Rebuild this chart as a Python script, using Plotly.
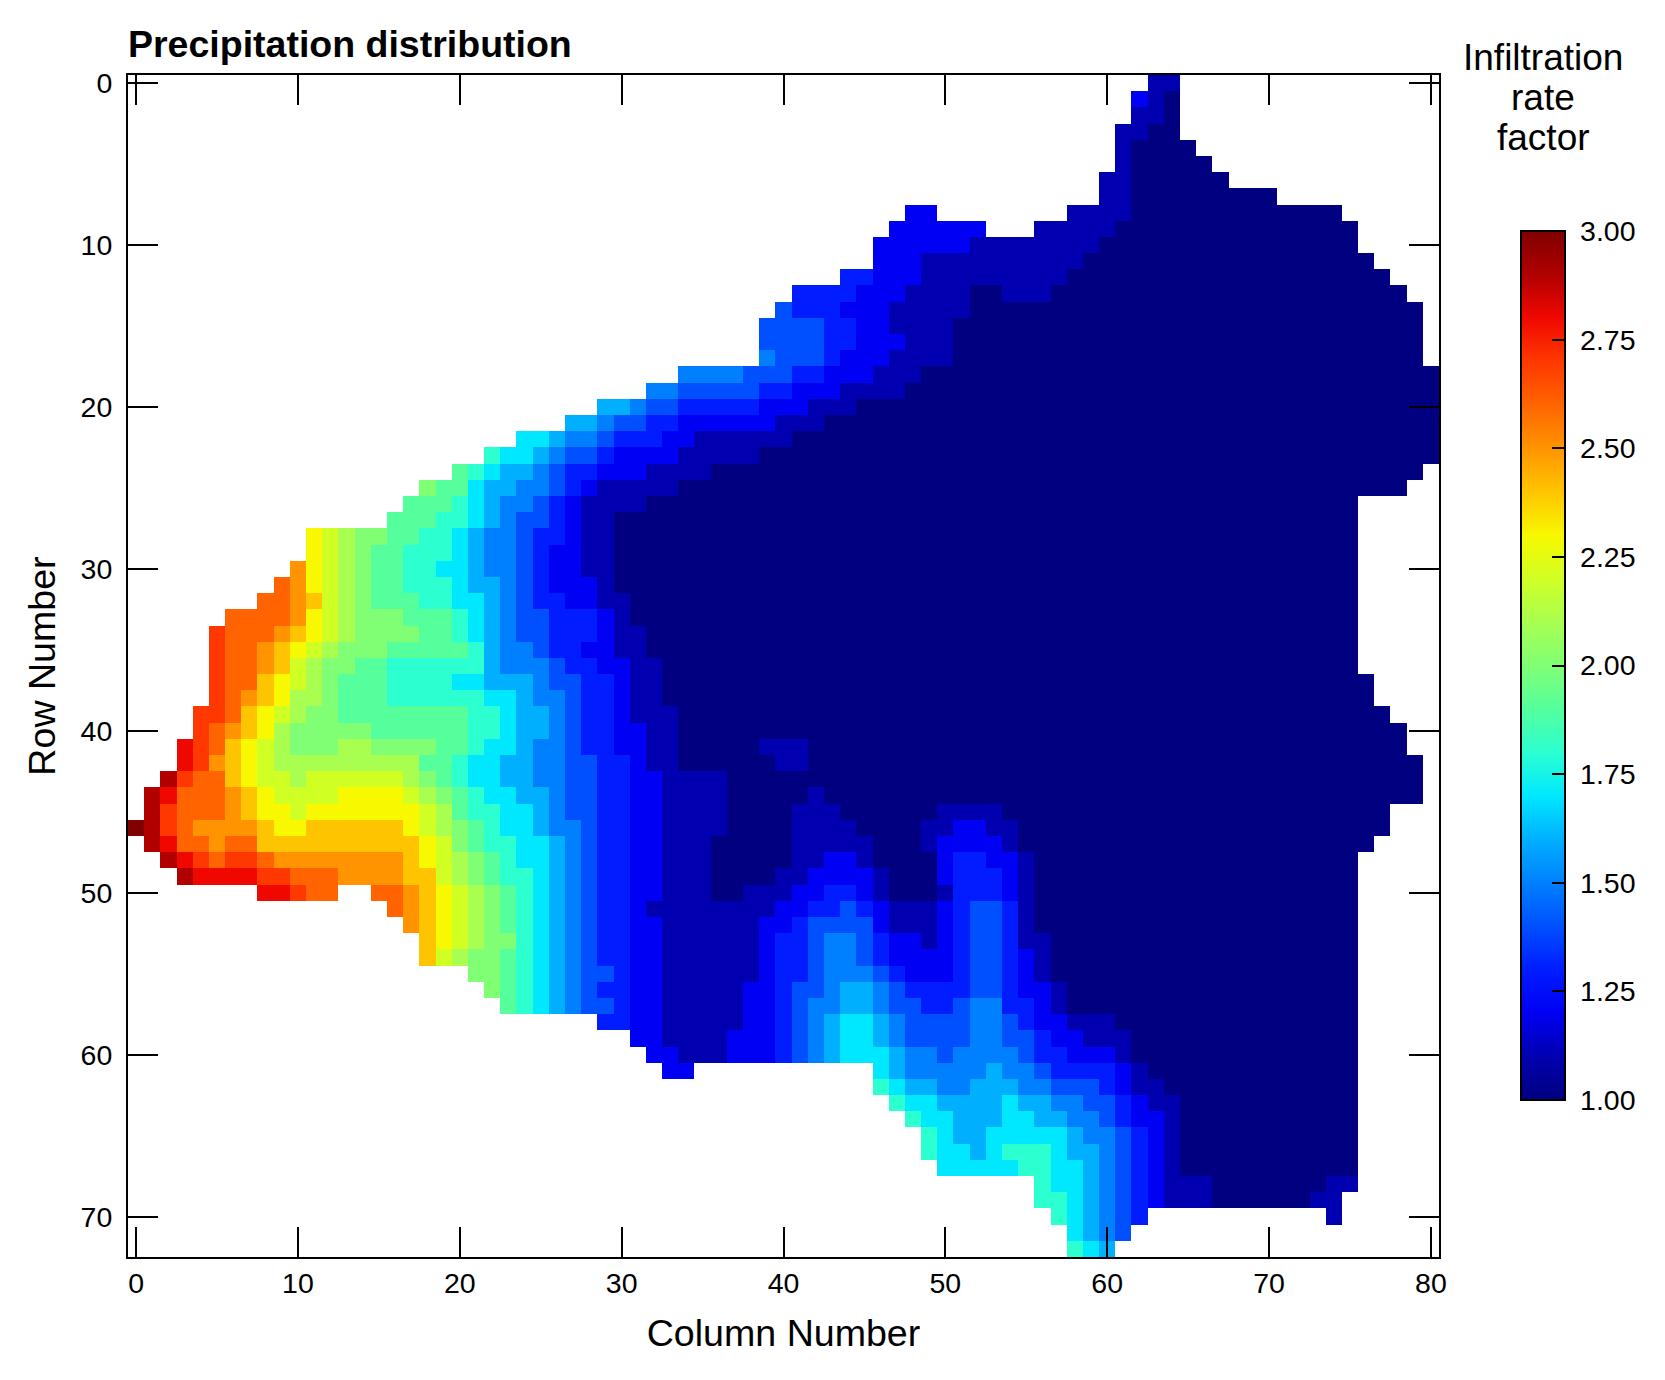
import plotly.graph_objects as go

# column where each row's data ends (last filled column)
row_ends = [64, 64, 64, 64, 65, 66, 67, 70, 74, 75, 75, 76, 77, 78, 79, 79, 79, 79, 80, 80, 80, 80, 80, 80, 79, 78,
            75, 75, 75, 75, 75, 75, 75, 75, 75, 75, 75, 76, 76, 77, 78, 78, 79, 79, 79, 77, 77, 76,
            75, 75, 75, 75, 75, 75, 75, 75, 75, 75, 75, 75, 75, 75, 75, 75, 75, 75, 75, 75, 75, 74, 74, 61, 60]

# each row: (first column, value) pairs, value holds until the next pair, None = no data
row_00 = [(63, 1.1)]
row_01 = [(62, 1.2), (63, 1.1), (64, 1.0)]
row_02 = [(62, 1.1), (64, 1.0)]
row_03 = [(61, 1.1), (63, 1.0)]
row_04 = [(61, 1.1), (62, 1.0)]
row_05 = [(61, 1.1), (62, 1.0)]
row_06 = [(60, 1.1), (62, 1.0)]
row_07 = [(60, 1.1), (62, 1.0)]
row_08 = [(48, 1.2), (50, None), (58, 1.1), (62, 1.0)]
row_09 = [(47, 1.2), (53, None), (56, 1.1), (61, 1.0)]
row_10 = [(46, 1.2), (52, 1.1), (60, 1.0)]
row_11 = [(46, 1.2), (49, 1.1), (59, 1.0)]
row_12 = [(44, 1.3), (46, 1.2), (49, 1.1), (58, 1.0)]
row_13 = [(41, 1.3), (45, 1.2), (48, 1.1), (52, 1.0), (54, 1.1), (57, 1.0)]
row_14 = [(40, 1.4), (41, 1.3), (44, 1.2), (47, 1.1), (52, 1.0)]
row_15 = [(39, 1.4), (43, 1.3), (45, 1.2), (47, 1.1), (51, 1.0)]
row_16 = [(39, 1.4), (43, 1.3), (45, 1.2), (48, 1.1), (51, 1.0)]
row_17 = [(39, 1.5), (40, 1.4), (43, 1.3), (44, 1.2), (47, 1.1), (51, 1.0)]
row_18 = [(34, 1.5), (38, 1.4), (41, 1.3), (43, 1.2), (46, 1.1), (49, 1.0)]
row_19 = [(32, 1.5), (34, 1.4), (39, 1.3), (41, 1.2), (44, 1.1), (48, 1.0)]
row_20 = [(29, 1.6), (31, 1.5), (32, 1.4), (34, 1.3), (39, 1.2), (42, 1.1), (45, 1.0)]
row_21 = [(27, 1.6), (29, 1.5), (30, 1.4), (32, 1.3), (34, 1.2), (40, 1.1), (43, 1.0)]
row_22 = [(24, 1.7), (26, 1.6), (27, 1.5), (29, 1.4), (30, 1.3), (33, 1.2), (35, 1.1), (41, 1.0)]
row_23 = [(22, 1.8), (23, 1.7), (25, 1.6), (26, 1.5), (27, 1.4), (29, 1.3), (30, 1.2), (34, 1.1), (39, 1.0)]
row_24 = [(20, 1.9), (21, 1.8), (22, 1.7), (23, 1.6), (25, 1.5), (26, 1.4), (27, 1.3), (29, 1.2), (32, 1.1), (36, 1.0)]
row_25 = [(18, 2.0), (19, 1.9), (21, 1.7), (22, 1.6), (24, 1.5), (26, 1.4), (27, 1.3), (28, 1.2), (29, 1.1), (34, 1.0)]
row_26 = [(17, 1.9), (20, 1.8), (21, 1.7), (22, 1.6), (23, 1.5), (25, 1.4), (26, 1.3), (27, 1.2), (28, 1.1), (32, 1.0)]
row_27 = [(16, 1.9), (19, 1.8), (21, 1.7), (22, 1.6), (23, 1.5), (24, 1.4), (26, 1.3), (27, 1.2), (28, 1.1), (30, 1.0)]
row_28 = [(11, 2.3), (12, 2.2), (13, 2.1), (14, 2.0), (16, 1.9), (18, 1.8), (20, 1.7), (21, 1.6), (22, 1.5), (24, 1.4),
          (25, 1.3), (27, 1.2), (28, 1.1), (30, 1.0)]
row_29 = [(11, 2.3), (12, 2.2), (13, 2.1), (14, 2.0), (15, 1.9), (17, 1.8), (20, 1.7), (21, 1.6), (22, 1.5), (24, 1.4),
          (25, 1.3), (26, 1.2), (28, 1.1), (30, 1.0)]
row_30 = [(10, 2.5), (11, 2.3), (12, 2.2), (13, 2.1), (14, 2.0), (15, 1.9), (17, 1.8), (19, 1.7), (21, 1.6), (22, 1.5),
          (24, 1.4), (25, 1.3), (26, 1.2), (28, 1.1), (30, 1.0)]
row_31 = [(9, 2.6), (10, 2.5), (11, 2.3), (12, 2.2), (13, 2.1), (14, 2.0), (15, 1.9), (17, 1.8), (20, 1.7), (21, 1.6),
          (23, 1.5), (24, 1.4), (25, 1.3), (26, 1.2), (29, 1.1), (30, 1.0)]
row_32 = [(8, 2.6), (10, 2.5), (11, 2.4), (12, 2.2), (13, 2.1), (14, 2.0), (15, 1.9), (18, 1.8), (20, 1.7), (22, 1.6),
          (23, 1.5), (24, 1.4), (25, 1.3), (27, 1.2), (29, 1.1), (31, 1.0)]
row_33 = [(6, 2.6), (10, 2.5), (11, 2.3), (12, 2.2), (13, 2.1), (14, 2.0), (17, 1.9), (20, 1.8), (21, 1.7), (22, 1.6),
          (23, 1.5), (24, 1.4), (26, 1.3), (29, 1.2), (30, 1.1), (31, 1.0)]
row_34 = [(5, 2.7), (6, 2.6), (9, 2.5), (10, 2.4), (11, 2.3), (12, 2.2), (13, 2.1), (14, 2.0), (18, 1.9), (20, 1.8),
          (21, 1.7), (22, 1.6), (23, 1.5), (24, 1.4), (26, 1.3), (29, 1.2), (30, 1.1), (32, 1.0)]
row_35 = [(5, 2.7), (6, 2.6), (8, 2.5), (9, 2.4), (10, 2.3), (11, 2.2), (12, 2.1), (13, 2.0), (16, 1.9), (21, 1.8),
          (22, 1.6), (23, 1.5), (25, 1.4), (26, 1.3), (28, 1.2), (30, 1.1), (32, 1.0)]
row_36 = [(5, 2.7), (6, 2.6), (8, 2.5), (9, 2.4), (10, 2.2), (11, 2.1), (12, 2.0), (14, 1.9), (16, 1.8), (22, 1.6),
          (23, 1.5), (26, 1.4), (27, 1.3), (29, 1.2), (31, 1.1), (33, 1.0)]
row_37 = [(5, 2.7), (6, 2.6), (8, 2.4), (9, 2.3), (10, 2.2), (11, 2.1), (12, 2.0), (13, 1.9), (16, 1.8), (20, 1.7),
          (22, 1.6), (25, 1.5), (26, 1.4), (28, 1.3), (30, 1.2), (31, 1.1), (33, 1.0)]
row_38 = [(5, 2.7), (6, 2.6), (7, 2.5), (8, 2.4), (9, 2.3), (10, 2.1), (12, 2.0), (13, 1.9), (16, 1.8), (22, 1.7),
          (24, 1.6), (25, 1.5), (27, 1.4), (28, 1.3), (30, 1.2), (31, 1.1), (33, 1.0)]
row_39 = [(4, 2.7), (6, 2.6), (7, 2.4), (8, 2.3), (9, 2.2), (10, 2.1), (11, 2.0), (13, 1.9), (21, 1.8), (23, 1.7),
          (24, 1.6), (26, 1.5), (27, 1.4), (28, 1.3), (30, 1.2), (31, 1.1), (34, 1.0)]
row_40 = [(4, 2.7), (5, 2.6), (6, 2.5), (7, 2.4), (8, 2.3), (9, 2.1), (10, 2.0), (15, 1.9), (21, 1.8), (23, 1.7),
          (24, 1.6), (26, 1.5), (27, 1.4), (28, 1.3), (30, 1.2), (32, 1.1), (34, 1.0)]
row_41 = [(3, 2.8), (4, 2.7), (5, 2.6), (6, 2.4), (7, 2.3), (8, 2.2), (9, 2.1), (10, 2.0), (13, 2.1), (15, 2.0),
          (19, 1.9), (21, 1.8), (22, 1.7), (24, 1.6), (25, 1.5), (27, 1.4), (28, 1.3), (30, 1.2), (32, 1.1), (34, 1.0),
          (39, 1.1), (42, 1.0)]
row_42 = [(3, 2.8), (4, 2.7), (5, 2.5), (6, 2.4), (7, 2.3), (8, 2.2), (9, 2.1), (18, 1.9), (20, 1.8), (21, 1.7),
          (23, 1.6), (25, 1.5), (27, 1.4), (29, 1.3), (31, 1.2), (32, 1.1), (34, 1.0), (40, 1.1), (42, 1.0)]
row_43 = [(2, 2.9), (3, 2.7), (4, 2.6), (6, 2.4), (7, 2.3), (8, 2.2), (10, 2.1), (11, 2.2), (17, 2.1), (18, 2.0),
          (19, 1.9), (20, 1.8), (21, 1.7), (23, 1.6), (25, 1.5), (27, 1.4), (29, 1.3), (31, 1.2), (33, 1.1), (37, 1.0)]
row_44 = [(1, 2.9), (2, 2.8), (3, 2.6), (6, 2.5), (7, 2.4), (8, 2.3), (9, 2.2), (13, 2.3), (17, 2.2), (18, 2.1),
          (19, 2.0), (20, 1.9), (21, 1.8), (22, 1.7), (24, 1.6), (26, 1.5), (27, 1.4), (29, 1.3), (31, 1.2), (33, 1.1),
          (37, 1.0), (42, 1.1), (43, 1.0)]
row_45 = [(1, 2.9), (2, 2.7), (3, 2.6), (6, 2.5), (7, 2.4), (8, 2.3), (10, 2.2), (11, 2.3), (18, 2.2), (19, 2.1),
          (20, 1.9), (21, 1.8), (23, 1.7), (25, 1.6), (26, 1.5), (27, 1.4), (29, 1.3), (31, 1.2), (33, 1.1), (37, 1.0),
          (41, 1.1), (44, 1.0), (50, 1.1), (54, 1.0)]
row_46 = [(0, 3.0), (1, 2.9), (2, 2.7), (3, 2.6), (4, 2.5), (8, 2.4), (9, 2.3), (11, 2.4), (17, 2.3), (18, 2.2),
          (19, 2.1), (20, 2.0), (21, 1.9), (22, 1.8), (23, 1.7), (25, 1.6), (26, 1.5), (28, 1.4), (29, 1.3), (31, 1.2),
          (33, 1.1), (37, 1.0), (41, 1.1), (45, 1.0), (49, 1.1), (51, 1.2), (53, 1.1), (55, 1.0)]
row_47 = [(1, 2.9), (2, 2.8), (3, 2.6), (5, 2.5), (6, 2.6), (8, 2.4), (18, 2.3), (19, 2.2), (20, 2.0), (21, 1.9),
          (22, 1.8), (24, 1.7), (26, 1.6), (27, 1.5), (28, 1.4), (29, 1.3), (31, 1.2), (33, 1.1), (36, 1.0), (41, 1.1),
          (46, 1.0), (49, 1.1), (50, 1.2), (54, 1.1), (55, 1.0)]
row_48 = [(2, 2.9), (3, 2.8), (4, 2.7), (5, 2.6), (6, 2.7), (8, 2.6), (9, 2.5), (17, 2.4), (18, 2.3), (19, 2.2),
          (20, 2.1), (21, 2.0), (22, 1.9), (23, 1.8), (24, 1.7), (26, 1.6), (27, 1.5), (28, 1.4), (29, 1.3), (31, 1.2),
          (33, 1.1), (36, 1.0), (41, 1.1), (43, 1.2), (45, 1.1), (46, 1.0), (50, 1.2), (51, 1.3), (53, 1.2), (55, 1.1),
          (56, 1.0)]
row_49 = [(3, 2.9), (4, 2.8), (8, 2.7), (10, 2.6), (13, 2.5), (17, 2.4), (19, 2.2), (20, 2.1), (21, 2.0), (22, 1.9),
          (23, 1.8), (25, 1.7), (26, 1.6), (27, 1.5), (28, 1.4), (29, 1.3), (31, 1.2), (33, 1.1), (36, 1.0), (40, 1.1),
          (42, 1.2), (46, 1.1), (47, 1.0), (50, 1.2), (51, 1.3), (54, 1.2), (55, 1.1), (56, 1.0)]
row_50 = [(8, 2.8), (10, 2.7), (11, 2.6), (13, None), (15, 2.6), (17, 2.5), (18, 2.4), (19, 2.3), (20, 2.2), (21, 2.1),
          (22, 2.0), (23, 1.9), (24, 1.8), (25, 1.7), (26, 1.6), (27, 1.5), (28, 1.4), (29, 1.3), (31, 1.2), (33, 1.1),
          (36, 1.0), (38, 1.1), (41, 1.2), (43, 1.3), (45, 1.2), (46, 1.1), (47, 1.0), (50, 1.1), (51, 1.3), (54, 1.2),
          (55, 1.1), (56, 1.0)]
row_51 = [(16, 2.6), (17, 2.5), (18, 2.4), (19, 2.3), (20, 2.2), (21, 2.1), (22, 2.0), (23, 1.9), (24, 1.8), (25, 1.7),
          (26, 1.6), (27, 1.5), (28, 1.4), (29, 1.3), (31, 1.2), (32, 1.1), (40, 1.2), (42, 1.3), (44, 1.4), (45, 1.3),
          (46, 1.2), (47, 1.1), (50, 1.2), (51, 1.3), (52, 1.4), (54, 1.3), (55, 1.1), (56, 1.0)]
row_52 = [(17, 2.5), (18, 2.4), (19, 2.3), (20, 2.2), (21, 2.1), (22, 2.0), (23, 1.9), (24, 1.8), (25, 1.7), (26, 1.6),
          (27, 1.5), (28, 1.4), (29, 1.3), (31, 1.2), (33, 1.1), (39, 1.2), (41, 1.3), (42, 1.4), (46, 1.2), (47, 1.1),
          (50, 1.2), (51, 1.3), (52, 1.4), (54, 1.3), (55, 1.1), (56, 1.0)]
row_53 = [(18, 2.4), (19, 2.3), (20, 2.2), (21, 2.1), (22, 2.0), (24, 1.8), (25, 1.7), (26, 1.6), (27, 1.5), (28, 1.4),
          (29, 1.3), (31, 1.2), (33, 1.1), (39, 1.2), (40, 1.3), (42, 1.4), (43, 1.5), (45, 1.4), (46, 1.3), (47, 1.2),
          (49, 1.1), (50, 1.2), (51, 1.3), (52, 1.4), (54, 1.3), (55, 1.1), (57, 1.0)]
row_54 = [(18, 2.4), (19, 2.2), (20, 2.1), (21, 2.0), (23, 1.9), (24, 1.8), (25, 1.7), (26, 1.6), (27, 1.5), (28, 1.4),
          (29, 1.3), (31, 1.2), (33, 1.1), (39, 1.2), (40, 1.3), (42, 1.4), (43, 1.5), (45, 1.4), (46, 1.3), (47, 1.2),
          (51, 1.3), (52, 1.4), (54, 1.3), (55, 1.2), (56, 1.1), (57, 1.0)]
row_55 = [(21, 2.0), (23, 1.9), (24, 1.8), (25, 1.7), (26, 1.6), (27, 1.5), (28, 1.4), (30, 1.3), (31, 1.2), (33, 1.1),
          (39, 1.2), (40, 1.3), (42, 1.4), (43, 1.5), (46, 1.4), (47, 1.3), (48, 1.2), (51, 1.3), (52, 1.4), (54, 1.3),
          (55, 1.2), (56, 1.1), (57, 1.0)]
row_56 = [(22, 2.0), (23, 1.9), (24, 1.8), (25, 1.7), (26, 1.6), (27, 1.5), (28, 1.4), (29, 1.3), (31, 1.2), (33, 1.1),
          (38, 1.2), (40, 1.3), (41, 1.4), (43, 1.5), (44, 1.6), (46, 1.5), (47, 1.4), (48, 1.3), (52, 1.4), (54, 1.3),
          (55, 1.2), (57, 1.1), (58, 1.0)]
row_57 = [(23, 1.9), (24, 1.8), (25, 1.7), (26, 1.6), (27, 1.5), (28, 1.4), (30, 1.3), (31, 1.2), (33, 1.1), (38, 1.2),
          (40, 1.3), (41, 1.4), (42, 1.5), (44, 1.6), (46, 1.5), (47, 1.4), (49, 1.3), (51, 1.4), (52, 1.5), (54, 1.3),
          (56, 1.2), (57, 1.1), (58, 1.0)]
row_58 = [(29, 1.3), (31, 1.2), (33, 1.1), (38, 1.2), (40, 1.3), (41, 1.4), (42, 1.5), (43, 1.6), (44, 1.7), (46, 1.6),
          (47, 1.5), (48, 1.4), (52, 1.5), (54, 1.4), (55, 1.3), (56, 1.2), (58, 1.1), (61, 1.0)]
row_59 = [(31, 1.2), (33, 1.1), (37, 1.2), (40, 1.3), (41, 1.4), (42, 1.5), (43, 1.6), (44, 1.7), (46, 1.6), (47, 1.5),
          (48, 1.4), (52, 1.5), (54, 1.4), (56, 1.3), (57, 1.2), (59, 1.1), (62, 1.0)]
row_60 = [(32, 1.2), (34, 1.1), (37, 1.2), (40, 1.3), (41, 1.4), (42, 1.5), (43, 1.6), (44, 1.7), (47, 1.6), (48, 1.5),
          (50, 1.4), (51, 1.5), (55, 1.4), (56, 1.3), (58, 1.2), (61, 1.1), (62, 1.0)]
row_61 = [(33, 1.2), (35, None), (46, 1.7), (47, 1.6), (48, 1.5), (53, 1.6), (54, 1.5), (56, 1.4), (57, 1.3), (61, 1.2),
          (62, 1.1), (63, 1.0)]
row_62 = [(46, 1.8), (47, 1.7), (48, 1.6), (50, 1.5), (52, 1.6), (55, 1.5), (57, 1.4), (60, 1.3), (61, 1.2), (62, 1.1),
          (64, 1.0)]
row_63 = [(47, 1.8), (48, 1.7), (50, 1.6), (54, 1.7), (55, 1.6), (57, 1.5), (59, 1.4), (61, 1.3), (62, 1.2), (63, 1.1),
          (65, 1.0)]
row_64 = [(48, 1.8), (49, 1.7), (51, 1.6), (54, 1.7), (56, 1.6), (58, 1.5), (60, 1.4), (61, 1.3), (62, 1.2), (64, 1.1),
          (65, 1.0)]
row_65 = [(49, 1.8), (50, 1.7), (51, 1.6), (53, 1.7), (58, 1.6), (59, 1.5), (61, 1.4), (62, 1.3), (63, 1.2), (64, 1.1),
          (65, 1.0)]
row_66 = [(49, 1.8), (50, 1.7), (52, 1.6), (53, 1.7), (54, 1.8), (57, 1.7), (58, 1.6), (60, 1.5), (61, 1.4), (62, 1.3),
          (63, 1.2), (64, 1.1), (65, 1.0)]
row_67 = [(50, 1.7), (55, 1.8), (57, 1.7), (59, 1.6), (60, 1.5), (61, 1.4), (62, 1.3), (63, 1.2), (64, 1.1), (65, 1.0)]
row_68 = [(56, 1.8), (57, 1.7), (59, 1.6), (60, 1.5), (61, 1.4), (62, 1.3), (63, 1.2), (64, 1.1), (67, 1.0), (74, 1.1)]
row_69 = [(56, 1.8), (58, 1.7), (59, 1.6), (60, 1.5), (61, 1.4), (62, 1.3), (63, 1.2), (64, 1.1), (67, 1.0), (73, 1.1)]
row_70 = [(57, 1.8), (58, 1.7), (59, 1.6), (60, 1.5), (61, 1.4), (62, 1.3), (63, None), (74, 1.1)]
row_71 = [(58, 1.7), (59, 1.6), (60, 1.5), (61, 1.4)]
row_72 = [(58, 1.8), (59, 1.7), (60, 1.6)]

rows = [row_00, row_01, row_02, row_03, row_04, row_05, row_06, row_07, row_08, row_09,
        row_10, row_11, row_12, row_13, row_14, row_15, row_16, row_17, row_18, row_19,
        row_20, row_21, row_22, row_23, row_24, row_25, row_26, row_27, row_28, row_29,
        row_30, row_31, row_32, row_33, row_34, row_35, row_36, row_37, row_38, row_39,
        row_40, row_41, row_42, row_43, row_44, row_45, row_46, row_47, row_48, row_49,
        row_50, row_51, row_52, row_53, row_54, row_55, row_56, row_57, row_58, row_59,
        row_60, row_61, row_62, row_63, row_64, row_65, row_66, row_67, row_68, row_69,
        row_70, row_71, row_72]

levels = [1.0, 1.1, 1.2, 1.3, 1.4, 1.5, 1.6, 1.7, 1.8, 1.9, 2.0, 2.1, 2.2, 2.3, 2.4, 2.5, 2.6, 2.7, 2.8, 2.9, 3.0]
level_colors = ["#000080", "#0000b0", "#0000f4", "#001cff", "#0050ff", "#0080ff", "#00b0ff", "#00e8ff", "#2cffd0",
                "#54ff9c", "#80ff74", "#a8ff50", "#d0ff24", "#f8f800", "#ffc400", "#ff9400", "#ff6400", "#ff3800",
                "#f00800", "#b00000", "#800000"]

col_ticks = [0, 10, 20, 30, 40, 50, 60, 70, 80]
row_ticks = [0, 10, 20, 30, 40, 50, 60, 70]
bar_ticks = [1.0, 1.25, 1.5, 1.75, 2.0, 2.25, 2.5, 2.75, 3.0]
bar_title = ["Infiltration", "rate", "factor"]

FONT = "Liberation Sans"
# the page body adds 8px around the figure
W, H = 1649, 1364
LEFT, RIGHT, TOP, BOTTOM = 120, 1431, 67, 1249

# expand the runs into the full grid
z = []
for runs, end in zip(rows, row_ends):
    line = [None] * 81
    for i, (col, val) in enumerate(runs):
        stop = runs[i + 1][0] if i + 1 < len(runs) else end + 1
        for c in range(col, stop):
            line[c] = val
    z.append(line)

scale = [[(lv - 1.0) / 2.0, c] for lv, c in zip(levels, level_colors)]
plot_w = RIGHT - LEFT
plot_h = BOTTOM - TOP

fig = go.Figure(go.Heatmap(
    z=z, x=list(range(81)), y=list(range(73)),
    zmin=1.0, zmax=3.0, colorscale=scale, hoverongaps=False,
    colorbar=dict(
        x=(1513 - LEFT) / plot_w, xanchor="left", y=(BOTTOM - 223) / plot_h, yanchor="top",
        thickness=44, thicknessmode="pixels", len=869, lenmode="pixels",
        xpad=0, ypad=0, outlinecolor="black", outlinewidth=2,
        ticks="inside", ticklen=14, tickwidth=2, tickcolor="black",
        # leading nbsp pushes the labels away from the bar
        tickvals=bar_ticks, ticktext=["\u00a0%.2f" % t for t in bar_ticks],
        tickfont=dict(family=FONT, size=28.5, color="black"),
    ),
))

axis_style = dict(
    showgrid=False, zeroline=False, showline=True, linecolor="black", linewidth=2,
    mirror="ticks", ticks="inside", ticklen=30, tickwidth=2, tickcolor="black",
    tickfont=dict(family=FONT, size=28.5, color="black"),
)
fig.update_xaxes(range=[-0.5, 80.5], tickvals=col_ticks,
                 title=dict(text="Column Number", font=dict(family=FONT, size=37.6, color="black"), standoff=21),
                 **axis_style)
fig.update_yaxes(range=[72.5, -0.5], tickvals=row_ticks, ticklabelstandoff=8,
                 title=dict(text="Row Number", font=dict(family=FONT, size=37.6, color="black"), standoff=13),
                 **axis_style)

fig.update_layout(
    width=W, height=H, autosize=False,
    margin=dict(l=LEFT, r=W - RIGHT, t=TOP, b=H - BOTTOM, autoexpand=False),
    paper_bgcolor="white", plot_bgcolor="white",
    title=dict(text="<b>Precipitation distribution</b>", xref="container", yref="container",
               x=LEFT / W, xanchor="left", y=1 - 36 / H, yanchor="middle",
               font=dict(family=FONT, size=37.5, color="black")),
)

for label, ypx in zip(bar_title, [49, 90, 129]):
    fig.add_annotation(text=label, xref="paper", yref="paper", showarrow=False,
                       x=(1535 - LEFT) / plot_w, xanchor="center",
                       y=(BOTTOM - ypx) / plot_h, yanchor="middle",
                       font=dict(family=FONT, size=37, color="black"))

fig.write_html("out.html")
